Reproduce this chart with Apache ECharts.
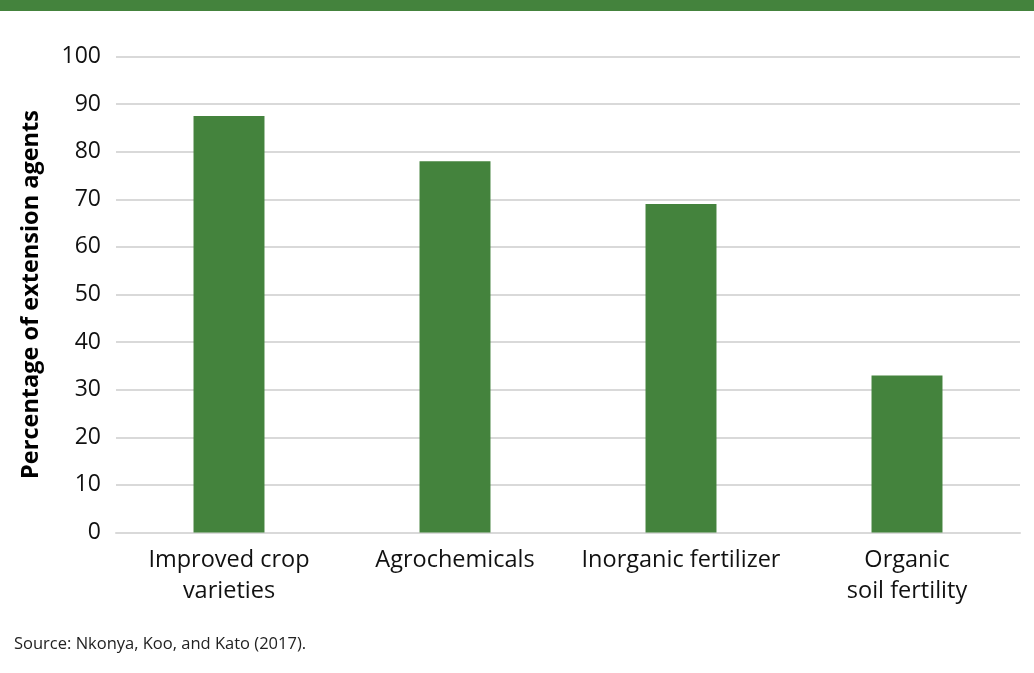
<!DOCTYPE html>
<html>
<head>
<meta charset="utf-8">
<script src="https://cdn.jsdelivr.net/npm/echarts@6/dist/echarts.min.js"></script>
<style>
  html, body { margin: 0; padding: 0; background: #fff; }
  #chart { width: 1034px; height: 673px; }
</style>
</head>
<body>
<div id="chart"></div>
<script>
// data
const categories = ['Improved crop\nvarieties', 'Agrochemicals', 'Inorganic fertilizer', 'Organic\nsoil fertility']
const values = [87.5, 78, 69, 33]
const yTicks = { min: 0, max: 100, interval: 10 }

const font = 'Open Sans'
const green = '#44833d'

let myChart = echarts.init(document.getElementById('chart'))
let option = {
  animation: false,
  graphic: [
    { type: 'rect', left: 0, top: 0, shape: { width: 1034, height: 11 }, style: { fill: green } },
    {
      type: 'text', left: 14, top: 636,
      style: { text: 'Source: Nkonya, Koo, and Kato (2017).', font: '16.5px "Open Sans"', fill: '#222' }
    }
  ],
  grid: {
    left: 116,
    right: 14,
    top: 56.5,
    bottom: 140.5
  },
  xAxis: {
    type: 'category',
    data: categories,
    axisLine: { lineStyle: { color: '#d9d9d9', width: 2 } },
    axisTick: { show: false },
    axisLabel: {
      color: '#111',
      fontFamily: font,
      fontSize: 23.5,
      lineHeight: 31,
      margin: 12,
      interval: 0
    }
  },
  yAxis: {
    type: 'value',
    min: yTicks.min,
    max: yTicks.max,
    interval: yTicks.interval,
    name: 'Percentage of extension agents',
    nameLocation: 'middle',
    nameGap: 73,
    nameTextStyle: {
      color: '#000',
      fontFamily: font,
      fontWeight: 'bold',
      fontSize: 23.5
    },
    axisLine: { show: false },
    axisTick: { show: false },
    axisLabel: {
      color: '#111',
      fontFamily: font,
      fontSize: 23,
      margin: 15
    },
    splitLine: { lineStyle: { color: '#d9d9d9', width: 2 } }
  },
  series: [
    {
      type: 'bar',
      data: values,
      barWidth: '31.4%',
      itemStyle: { color: green }
    }
  ]
}
myChart.setOption(option)
</script>
</body>
</html>
